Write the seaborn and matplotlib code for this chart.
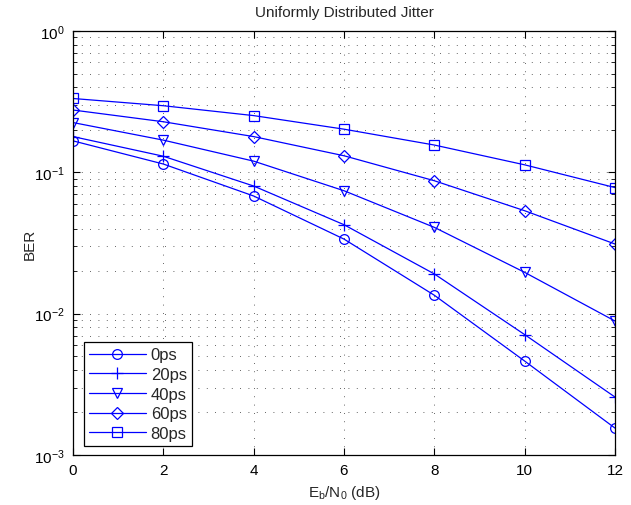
import numpy as np
import pandas as pd
import matplotlib
matplotlib.use("Agg")
import matplotlib.pyplot as plt
import seaborn as sns
from matplotlib.ticker import LogLocator, FixedLocator

ebn0 = [0, 2, 4, 6, 8, 10, 12]
series_names = ["0ps", "20ps", "40ps", "60ps", "80ps"]
ber_0ps = [0.167, 0.1145, 0.068, 0.0337, 0.0135, 0.00462, 0.00155]
ber_20ps = [0.179, 0.130, 0.080, 0.0426, 0.0191, 0.00711, 0.00257]
ber_40ps = [0.225, 0.169, 0.120, 0.0741, 0.0408, 0.0196, 0.00887]
ber_60ps = [0.276, 0.228, 0.179, 0.131, 0.0872, 0.0535, 0.0311]
ber_80ps = [0.333, 0.296, 0.252, 0.202, 0.156, 0.113, 0.078]
marker_list = ["o", "+", "v", "D", "s"]

rows = []
for name, vals in zip(series_names, [ber_0ps, ber_20ps, ber_40ps, ber_60ps, ber_80ps]):
    for x, y in zip(ebn0, vals):
        rows.append({"EbN0": x, "BER": y, "Jitter": name})
df = pd.DataFrame(rows)

sns.set_style("white")
plt.rcParams["font.family"] = ["Liberation Sans", "DejaVu Sans"]
plt.rcParams["mathtext.default"] = "regular"

fig = plt.figure(figsize=(6.31, 5.06), dpi=100)
ax = fig.add_axes([73 / 631, 1 - 456 / 506, (615 - 73) / 631, (456 - 32) / 506])

blue = "#0000ff"
msizes = {"o": 7, "+": 9, "v": 7.5, "D": 6.5, "s": 7}
for name, m in zip(series_names, marker_list):
    sub = df[df["Jitter"] == name]
    sns.lineplot(data=sub, x="EbN0", y="BER", color=blue, marker=m,
                 legend=False, ax=ax, linewidth=0.9,
                 markerfacecolor="none", markeredgecolor=blue, markeredgewidth=0.9,
                 markersize=msizes[m])

ax.set_yscale("log")
ax.set_xlim(0, 12)
ax.set_ylim(1e-3, 1)
ax.xaxis.set_major_locator(FixedLocator(ebn0))
ax.yaxis.set_major_locator(LogLocator(base=10, numticks=10))
ax.yaxis.set_minor_locator(LogLocator(base=10, subs=np.arange(2, 10), numticks=20))

grid_ls = (0, (1, 9))
ax.grid(True, which="major", axis="both", linestyle=grid_ls, color="#303030", linewidth=0.6)
ax.grid(True, which="minor", axis="y", linestyle=grid_ls, color="#303030", linewidth=0.6)

for s in ax.spines.values():
    s.set_color("k")
    s.set_linewidth(0.9)
    s.set_visible(True)

ax.tick_params(axis="both", which="both", direction="in", top=True, right=True,
               bottom=True, left=True, colors="k", labelsize=11, pad=6)
ax.tick_params(which="major", length=5, width=0.8)
ax.tick_params(which="minor", length=3, width=0.6)

ax.set_xlabel("E$_b$/N$_0$ (dB)", fontsize=11, labelpad=4)
ax.set_ylabel("BER", fontsize=11)
ax.yaxis.set_label_coords(-0.066, 0.5)
ax.set_title("Uniformly Distributed Jitter", fontsize=11, pad=11)

leg = ax.legend(ax.lines, series_names, loc="lower left",
                bbox_to_anchor=(11 / 542, 9 / 424), borderaxespad=0,
                fontsize=12, handlelength=3.4, frameon=True, fancybox=False,
                edgecolor="k", framealpha=1, borderpad=0.3, labelspacing=0.28,
                handletextpad=0.3)
leg.get_frame().set_linewidth(0.9)

fig.savefig("out.png", dpi=100, facecolor="white")
